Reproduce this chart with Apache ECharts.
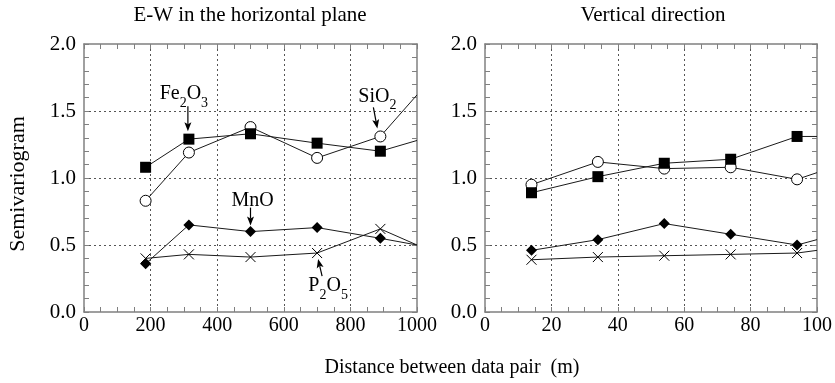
<!DOCTYPE html>
<html>
<head>
<meta charset="utf-8">
<script src="https://cdn.jsdelivr.net/npm/echarts@6/dist/echarts.min.js"></script>
<style>
  html, body { margin: 0; padding: 0; background: #fff; }
  #chart { width: 835px; height: 383px; }
</style>
</head>
<body>
<div id="chart"></div>
<script>
// Lag distances (m) of the five data-pair classes
const horizDistance = [185, 315, 500, 700, 890];
const vertDistance = [14, 34, 54, 74, 94];

// Semivariogram values, E-W horizontal plane
const horizFe2O3 = [1.08, 1.29, 1.33, 1.26, 1.20];
const horizSiO2  = [0.83, 1.19, 1.38, 1.15, 1.31];
const horizMnO   = [0.36, 0.65, 0.60, 0.63, 0.55];
const horizP2O5  = [0.40, 0.43, 0.41, 0.44, 0.62];
// Value where each curve leaves the plot at 1000 m (Fe2O3, SiO2, MnO, P2O5)
const horizEdge  = [1.28, 1.62, 0.50, 0.50];

// Semivariogram values, vertical direction
const vertFe2O3 = [0.89, 1.01, 1.11, 1.14, 1.31];
const vertSiO2  = [0.95, 1.12, 1.07, 1.08, 0.99];
const vertMnO   = [0.46, 0.54, 0.66, 0.58, 0.50];
const vertP2O5  = [0.39, 0.41, 0.42, 0.43, 0.44];
// Value where each curve leaves the plot at 100 m
const vertEdge  = [1.31, 1.04, 0.54, 0.46];

const horizTicks = [0, 200, 400, 600, 800, 1000];
const vertTicks = [0, 20, 40, 60, 80, 100];
const yTicks = [0.0, 0.5, 1.0, 1.5, 2.0];

const FONT = '"Liberation Serif", "Times New Roman", serif';
const FRAME = '#808080';

const chart = echarts.init(document.getElementById('chart'), null, { renderer: 'canvas' });

function frameAxis(base) {
  return Object.assign({
    axisLine: { show: true, onZero: false, lineStyle: { color: FRAME, width: 1.5 } },
    axisTick: { show: true, inside: true, length: 5, lineStyle: { color: FRAME, width: 1 } },
    minorTick: { show: true, length: 5, lineStyle: { color: FRAME, width: 1 } },
    splitLine: { show: false },
    axisLabel: { show: false }
  }, base);
}

function xAxes(grid, max, interval, ticks) {
  const common = { type: 'value', gridIndex: grid, min: 0, max: max, interval: interval };
  const bottom = frameAxis(Object.assign({}, common, {
    position: 'bottom',
    axisLabel: {
      show: true, margin: 4, color: '#000', fontFamily: FONT, fontSize: 20,
      formatter: v => (ticks.indexOf(v) >= 0 ? String(v) : '')
    },
    splitLine: { show: true, showMinLine: false, showMaxLine: false,
      lineStyle: { color: '#555', width: 1, type: [2, 3] } }
  }));
  bottom.minorTick.splitNumber = 4;
  const top = frameAxis(Object.assign({}, common, { position: 'top' }));
  top.minorTick.splitNumber = 4;
  return [bottom, top];
}

function yAxes(grid) {
  const common = { type: 'value', gridIndex: grid, min: 0, max: 2, interval: 0.5 };
  const left = frameAxis(Object.assign({}, common, {
    position: 'left',
    axisLabel: {
      show: true, margin: 8, color: '#000', fontFamily: FONT, fontSize: 21,
      formatter: v => (yTicks.indexOf(v) >= 0 ? v.toFixed(1) : '')
    },
    splitLine: { show: true, showMinLine: false, showMaxLine: false,
      lineStyle: { color: '#555', width: 1, type: [2, 3] } }
  }));
  left.minorTick.splitNumber = 5;
  const right = frameAxis(Object.assign({}, common, { position: 'right' }));
  right.minorTick.splitNumber = 5;
  return [left, right];
}

const crossPath = 'path://M0,0L10,10M0,10L10,0';
const markers = {
  Fe2O3: { symbol: 'rect', symbolSize: 11, itemStyle: { color: '#000', borderColor: '#000', borderWidth: 0 } },
  SiO2:  { symbol: 'circle', symbolSize: 11, itemStyle: { color: '#fff', borderColor: '#000', borderWidth: 1 } },
  MnO:   { symbol: 'diamond', symbolSize: 11, itemStyle: { color: '#000', borderColor: '#000', borderWidth: 0 } },
  P2O5:  { symbol: crossPath, symbolSize: 10, itemStyle: { color: 'rgba(0,0,0,0)', borderColor: '#000', borderWidth: 1 } }
};

function makeSeries(name, xs, ys, edgeX, edgeY, axisIdx) {
  const data = xs.map((x, i) => [x, ys[i]]);
  data.push({ value: [edgeX, edgeY], symbol: 'none' });
  return Object.assign({
    type: 'line', name: name,
    xAxisIndex: axisIdx, yAxisIndex: axisIdx,
    data: data, clip: true,
    showAllSymbol: true,
    lineStyle: { color: '#1a1a1a', width: 1 },
    emphasis: { disabled: true },
    animation: false
  }, markers[name]);
}

// Order: circles first so filled squares sit on top where they overlap
const names = ['SiO2', 'Fe2O3', 'MnO', 'P2O5'];
const horizData = { Fe2O3: horizFe2O3, SiO2: horizSiO2, MnO: horizMnO, P2O5: horizP2O5 };
const vertData = { Fe2O3: vertFe2O3, SiO2: vertSiO2, MnO: vertMnO, P2O5: vertP2O5 };
const edgeOrder = ['Fe2O3', 'SiO2', 'MnO', 'P2O5'];

const series = [];
names.forEach(n => {
  series.push(makeSeries(n, horizDistance, horizData[n], 1000, horizEdge[edgeOrder.indexOf(n)], 0));
});
names.forEach(n => {
  series.push(makeSeries(n, vertDistance, vertData[n], 100, vertEdge[edgeOrder.indexOf(n)], 2));
});

const hx = xAxes(0, 1000, 200, horizTicks);
const vx = xAxes(1, 100, 20, vertTicks);
const hy = yAxes(0);
const vy = yAxes(1);

chart.setOption({
  animation: false,
  backgroundColor: '#fff',
  grid: [
    { left: 84, top: 44, width: 333, height: 268 },
    { left: 485, top: 44, width: 332, height: 268 }
  ],
  // axis index 0/2 carry data; 1/3 are the mirrored top/right frames
  xAxis: [hx[0], hx[1], vx[0], vx[1]],
  yAxis: [hy[0], hy[1], vy[0], vy[1]],
  series: series
});

// Text and arrow annotations anchored at data points
const richStyle = {
  m: { fontFamily: FONT, fontSize: 20, lineHeight: 20, padding: [0, 0, 6, 0], verticalAlign: 'bottom', fill: '#000' },
  s: { fontFamily: FONT, fontSize: 14, lineHeight: 14, verticalAlign: 'bottom', fill: '#000' }
};

const notes = [
  { text: '{m|Fe}{s|2}{m|O}{s|3}', at: [horizDistance[1], horizFe2O3[1]], label: [-5, -49], from: [-1, -33], to: [-1, -8] },
  { text: '{m|SiO}{s|2}', at: [horizDistance[4], horizSiO2[4]], label: [-3, -44], from: [-7, -29], to: [-3, -8] },
  { text: '{m|MnO}', at: [horizDistance[2], horizMnO[2]], label: [2, -35], from: [0, -24], to: [0, -6] },
  { text: '{m|P}{s|2}{m|O}{s|5}', at: [horizDistance[3], horizP2O5[3]], label: [11, 29], from: [5, 23], to: [1, 6] }
];

const graphics = [];
notes.forEach(n => {
  const p = chart.convertToPixel({ xAxisIndex: 0, yAxisIndex: 0 }, n.at);
  graphics.push({
    type: 'text', x: p[0] + n.label[0], y: p[1] + n.label[1],
    style: { text: n.text, rich: richStyle, align: 'center', verticalAlign: 'top' }
  });
  const x1 = p[0] + n.from[0], y1 = p[1] + n.from[1];
  const x2 = p[0] + n.to[0], y2 = p[1] + n.to[1];
  const ang = Math.atan2(y2 - y1, x2 - x1);
  const len = 9, half = 3.5;
  const c = Math.cos(ang), s = Math.sin(ang);
  const bx = x2 - len * c, by = y2 - len * s;
  graphics.push({
    type: 'polyline', shape: { points: [[x1, y1], [bx + 2 * c, by + 2 * s]] },
    style: { stroke: '#000', lineWidth: 1.2, fill: null }
  });
  graphics.push({
    type: 'polygon',
    shape: { points: [
      [x2, y2],
      [bx - half * s, by + half * c],
      [bx + 2 * c, by + 2 * s],
      [bx + half * s, by - half * c]
    ] },
    style: { fill: '#000' }
  });
});

// Panel titles and shared axis names
graphics.push(
  { type: 'text', x: 250, y: 15, style: { text: 'E-W in the horizontal plane', font: '21px ' + FONT, fill: '#000', align: 'center', verticalAlign: 'middle' } },
  { type: 'text', x: 653, y: 15, style: { text: 'Vertical direction', font: '21px ' + FONT, fill: '#000', align: 'center', verticalAlign: 'middle' } },
  { type: 'text', x: 452, y: 368, style: { text: 'Distance between data pair  (m)', font: '20px ' + FONT, fill: '#000', align: 'center', verticalAlign: 'middle' } },
  { type: 'text', x: 18, y: 184, rotation: Math.PI / 2, style: { text: 'Semivariogram', font: '22px ' + FONT, fill: '#000', align: 'center', verticalAlign: 'middle' } }
);

chart.setOption({ graphic: graphics });
</script>
</body>
</html>
